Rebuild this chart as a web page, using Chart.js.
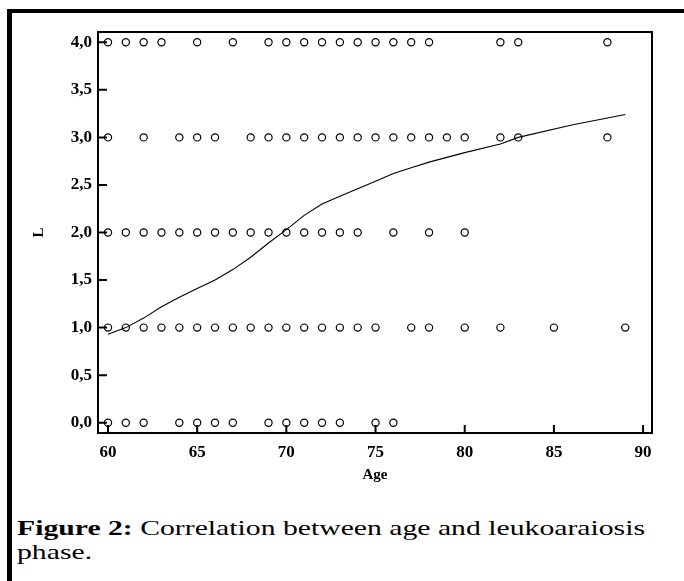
<!DOCTYPE html>
<html><head><meta charset="utf-8">
<script src="https://cdn.jsdelivr.net/npm/chart.js@4.4.0/dist/chart.umd.min.js"></script>
<style>
html,body{margin:0;padding:0;background:#fff;width:684px;height:581px;overflow:hidden;position:relative}
#barTop{position:absolute;left:7px;top:9px;width:677px;height:4px;background:#000}
#barLeft{position:absolute;left:7px;top:9px;width:5px;height:572px;background:#000}
#c{position:absolute;left:0;top:0}
#cap{position:absolute;left:17px;top:517px;white-space:nowrap;transform-origin:0 0;color:#000;font-size:21px;line-height:23.5px}
</style></head><body>
<div id="barTop"></div><div id="barLeft"></div>
<canvas id="c" width="684" height="500"></canvas>
<div id="cap"><b>Figure 2:</b> Correlation between age and leukoaraiosis<br>phase.</div>
<script>
// ---- data ----
const levels = [0, 1, 2, 3, 4];
const agesL0 = [60,61,62,64,65,66,67,69,70,71,72,73,75,76];
const agesL1 = [60,61,62,63,64,65,66,67,68,69,70,71,72,73,74,75,77,78,80,82,85,89];
const agesL2 = [60,61,62,63,64,65,66,67,68,69,70,71,72,73,74,76,78,80];
const agesL3 = [60,62,64,65,66,68,69,70,71,72,73,74,75,76,77,78,79,80,82,83,88];
const agesL4 = [60,61,62,63,65,67,69,70,71,72,73,74,75,76,77,78,82,83,88];
const fitAge = [60,61,62,63,64,65,66,67,68,69,70,71,72,73,74,75,76,77,78,79,80,82,83,86,89];
const fitL   = [0.93,1.00,1.10,1.22,1.32,1.41,1.50,1.61,1.74,1.89,2.03,2.18,2.30,2.38,2.46,2.54,2.62,2.68,2.74,2.79,2.84,2.93,3.00,3.13,3.24];
const xTicks = [60,65,70,75,80,85,90];
const yTicks = [0,0.5,1,1.5,2,2.5,3,3.5,4];

const rows = [agesL0, agesL1, agesL2, agesL3, agesL4];
const points = [];
rows.forEach((arr, i) => arr.forEach(a => points.push({x: a, y: levels[i]})));
const fitPts = fitAge.map((a, i) => ({x: a, y: fitL[i]}));

const serif = '"Liberation Serif","Times New Roman",Tinos,"DejaVu Serif",serif';
// use a condensed face when one is installed (closer to the reference's narrow serif)
const cv = document.createElement('canvas').getContext('2d');
cv.font = 'bold 40px ' + serif; const wN = cv.measureText('Correlation 0123456789').width;
cv.font = 'bold condensed 40px ' + serif; const wC = cv.measureText('Correlation 0123456789').width;
const hasCond = Math.abs(wN - wC) > 0.5;
const boldW = hasCond ? 'bold condensed' : 'bold';
const tickSize = hasCond ? 18 : 17;

const cap = document.getElementById('cap');
cap.style.fontFamily = serif;
if (hasCond) cap.style.fontStretch = 'condensed';

const framePlugin = {
  id: 'framePlugin',
  afterDatasetsDraw(chart) {
    const {ctx, chartArea: a, scales: {x, y}} = chart;
    ctx.save();
    ctx.strokeStyle = '#000';
    ctx.lineWidth = 2;
    ctx.strokeRect(a.left, a.top, a.right - a.left, a.bottom - a.top);
    ctx.beginPath();
    xTicks.forEach(v => { const p = x.getPixelForValue(v); ctx.moveTo(p, a.bottom); ctx.lineTo(p, a.bottom - 8); });
    yTicks.forEach(v => { const p = y.getPixelForValue(v); ctx.moveTo(a.left, p); ctx.lineTo(a.left + 9, p); });
    ctx.stroke();
    ctx.restore();
  }
};

new Chart(document.getElementById('c'), {
  type: 'scatter',
  data: {
    datasets: [
      {
        type: 'line', data: fitPts, borderColor: '#000', borderWidth: 1.1,
        pointRadius: 0, tension: 0, fill: false
      },
      {
        data: points, pointStyle: 'circle', pointRadius: 3.6, pointBorderWidth: 1.2,
        borderColor: '#000', backgroundColor: 'rgba(0,0,0,0)'
      }
    ]
  },
  options: {
    responsive: false, animation: false, events: [],
    devicePixelRatio: 1,
    layout: {padding: {left: 0, top: 32, right: 32, bottom: 0}},
    plugins: {legend: {display: false}, tooltip: {enabled: false}},
    scales: {
      x: {
        type: 'linear', min: 59.44, max: 90.5,
        afterBuildTicks: s => { s.ticks = xTicks.map(v => ({value: v})); },
        afterFit: s => { s.height = 67; },
        grid: {display: false, drawTicks: false}, border: {display: false},
        ticks: {color: '#000', font: {family: serif, size: tickSize, weight: boldW}, padding: 9, maxRotation: 0, autoSkip: false},
        title: {display: true, text: 'Age', color: '#000', font: {family: serif, size: 15, weight: boldW}, padding: {top: 0, bottom: 16}}
      },
      y: {
        type: 'linear', min: -0.108, max: 4.108,
        afterBuildTicks: s => { s.ticks = yTicks.map(v => ({value: v})); },
        afterFit: s => { s.width = 98; },
        grid: {display: false, drawTicks: false}, border: {display: false},
        ticks: {color: '#000', font: {family: serif, size: tickSize, weight: boldW}, padding: 6,
          callback: v => Number(v).toFixed(1).replace('.', ',')},
        title: {display: true, text: 'L', color: '#000', font: {family: serif, size: 15, weight: boldW}, padding: {top: 30, bottom: 0}}
      }
    }
  },
  plugins: [framePlugin]
});

// fit caption to the reference line width
const w = cap.scrollWidth;
cap.style.transform = 'scaleX(' + (628 / w) + ')';
</script>
</body></html>
